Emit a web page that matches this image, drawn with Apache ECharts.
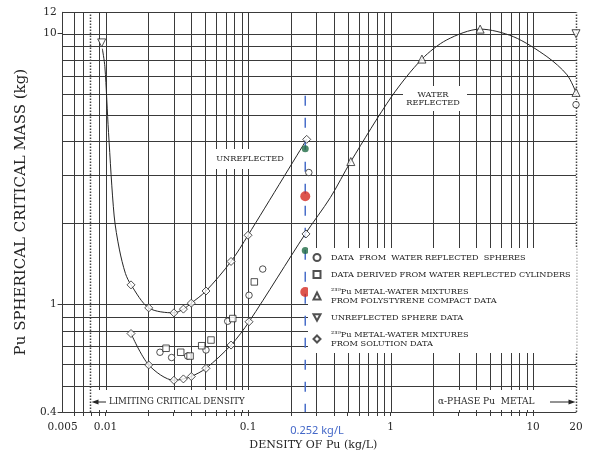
<!DOCTYPE html>
<html><head><meta charset="utf-8">
<script src="https://cdn.jsdelivr.net/npm/echarts@6/dist/echarts.min.js"></script>
<style>html,body{margin:0;padding:0;background:#fff}#c{width:589px;height:456px}</style>
</head><body><div id="c"></div>
<script>
// ---- axis ranges & ticks ----
const X_MIN = 0.005, X_MAX = 20, Y_MIN = 0.4, Y_MAX = 12;
const xLabelValues = [0.005, 0.01, 0.1, 1, 10, 20];
const xTickValues = [0.006,0.007,0.008,0.009,0.01,0.02,0.03,0.04,0.05,0.06,0.07,0.08,0.09,0.1,0.2,0.3,0.4,0.5,0.6,0.7,0.8,0.9,1,2,3,4,5,6,7,8,9,10];
const yLabelValues = [0.4, 1, 10, 12];
const yTickValues = [0.4, 1, 10];
const xGridValues = [0.006,0.007,0.009,0.01,0.02,0.03,0.04,0.05,0.06,0.07,0.08,0.09,0.1,0.2,0.3,0.4,0.5,0.6,0.7,0.8,0.9,1,2,3,4,5,6,7,8,9,10];
const yGridValues = [0.5,0.6,0.7,0.8,0.9,1,2,3,4,5,6,7,8,9,10];
const limitingDensity = [0.0078];
const markedDensity = 0.252;
const markedLineRange = [5.9, 0.4];

// ---- curves ----
const unreflectedCurve = [[0.0095,8.8],[0.0099,7.55],[0.0105,4.32],[0.0115,2.12],[0.0125,1.60],[0.0138,1.30],[0.0151,1.18],[0.0201,0.97],[0.0302,0.93],[0.0352,0.96],[0.040,1.01],[0.0507,1.12],[0.076,1.44],[0.1,1.80],[0.258,4.07]];
const reflectedCurve = [[0.0151,0.78],[0.0201,0.597],[0.0302,0.524],[0.0352,0.530],[0.040,0.541],[0.0507,0.580],[0.076,0.707],[0.1016,0.862],[0.252,1.82],[0.378,2.48],[0.526,3.37],[1.02,5.87],[1.66,8.06],[2.48,9.49],[4.25,10.4],[7.28,9.75],[12.5,8.23],[17.3,7.05],[20,6.07]];

// ---- data points ----
const sphereData = [[0.0241,0.665],[0.0291,0.636],[0.0377,0.644],[0.0507,0.678],[0.0720,0.866],[0.1016,1.08],[0.1268,1.35],[0.267,3.07],[20,5.47]];
const cylinderData = [[0.0266,0.688],[0.0337,0.665],[0.0392,0.644],[0.0473,0.703],[0.055,0.738],[0.0781,0.886],[0.1107,1.21]];
const polystyreneData = [[0.526,3.37],[1.66,8.06],[4.25,10.4],[20,6.07]];
const unreflectedSphereData = [[0.0094,9.25],[20,10.0]];
const solutionData = [[0.0151,1.18],[0.0201,0.97],[0.0302,0.93],[0.0352,0.96],[0.040,1.01],[0.0507,1.12],[0.076,1.44],[0.1,1.80],[0.258,4.07],
  [0.0151,0.78],[0.0201,0.597],[0.0302,0.524],[0.0352,0.530],[0.040,0.541],[0.0507,0.580],[0.076,0.707],[0.1016,0.862],[0.255,1.82]];
const greenMarks = [[0.252,3.76],[0.252,1.58]];
const redMarks = [[0.252,2.51],[0.252,1.11]];

const legendNames = [
  'DATA  FROM  WATER REFLECTED  SPHERES',
  'DATA DERIVED FROM WATER REFLECTED CYLINDERS',
  '²³⁹Pu METAL-WATER MIXTURES\nFROM POLYSTYRENE COMPACT DATA',
  'UNREFLECTED SPHERE DATA',
  '²³⁹Pu METAL-WATER MIXTURES\nFROM SOLUTION DATA'
];

const FONT = '"DejaVu Serif", "Liberation Serif", serif';
const INK = '#262626';
const GRID_INK = '#3a3a3a';

function vLines(values, style, z) {
  return {
    type: 'custom', z: z, silent: true, clip: false,
    data: values.map(v => [v, Y_MIN]),
    renderItem: function (params, api) {
      const x = api.value(0);
      const p1 = api.coord([x, Y_MIN]), p2 = api.coord([x, Y_MAX]);
      const px = Math.round(p1[0]) + 0.5;
      return { type: 'line', shape: { x1: px, y1: p1[1], x2: px, y2: p2[1] }, style: style };
    }
  };
}
function hLines(values, style, z) {
  return {
    type: 'custom', z: z, silent: true, clip: false,
    data: values.map(v => [X_MIN, v]),
    renderItem: function (params, api) {
      const y = api.value(1);
      const p1 = api.coord([X_MIN, y]), p2 = api.coord([X_MAX, y]);
      const py = Math.round(p1[1]) + 0.5;
      return { type: 'line', shape: { x1: p1[0], y1: py, x2: p2[0], y2: py }, style: style };
    }
  };
}
const fmt = v => String(Number((+v).toPrecision(6)));
const openStyle = { color: '#fff', borderColor: INK, borderWidth: 1 };

const chart = echarts.init(document.getElementById('c'), null, { renderer: 'canvas' });
chart.setOption({
  backgroundColor: '#fff',
  animation: false,
  grid: { left: 62.6, right: 13, top: 12.3, bottom: 42, show: false },
  xAxis: {
    type: 'log', logBase: 10, min: X_MIN, max: X_MAX,
    name: 'DENSITY OF Pu (kg/L)', nameLocation: 'middle', nameGap: 28,
    nameTextStyle: { fontFamily: FONT, fontSize: 11, color: INK, padding: [0, 12, 0, 0] },
    axisLine: { show: true, lineStyle: { color: GRID_INK, width: 1 } },
    axisTick: { show: true, inside: false, length: 4, customValues: xTickValues, lineStyle: { color: GRID_INK } },
    axisLabel: { customValues: xLabelValues, formatter: fmt, margin: 10, fontFamily: FONT, fontSize: 10.5, color: INK },
    splitLine: { show: false }
  },
  yAxis: {
    type: 'log', logBase: 10, min: Y_MIN, max: Y_MAX,
    name: 'Pu SPHERICAL CRITICAL MASS (kg)', nameLocation: 'middle', nameGap: 30, nameRotate: 90,
    nameTextStyle: { fontFamily: FONT, fontSize: 15, color: INK },
    axisLine: { show: true, lineStyle: { color: GRID_INK, width: 1 } },
    axisTick: { show: true, inside: false, length: 5, customValues: yTickValues, lineStyle: { color: GRID_INK } },
    axisLabel: { customValues: yLabelValues, formatter: fmt, margin: 6, fontFamily: FONT, fontSize: 10.5, color: INK },
    splitLine: { show: false }
  },
  legend: {
    orient: 'vertical', left: 308, top: 248, itemWidth: 7, itemHeight: 7, itemGap: 8,
    padding: [5, 6, 5, 4.5], backgroundColor: '#fff', selectedMode: false, z: 5,
    textStyle: { fontFamily: FONT, fontSize: 8.2, lineHeight: 9, color: INK, padding: [0, 0, 0, 5.5] },
    data: legendNames
  },
  graphic: [
    { type: 'rect', z: 2, shape: { x: 213, y: 149, width: 74, height: 20 }, style: { fill: '#fff' } },
    { type: 'text', z: 2, x: 250, y: 159, style: { text: 'UNREFLECTED', font: '8.2px ' + FONT, fill: INK, align: 'center', verticalAlign: 'middle' } },
    { type: 'rect', z: 2, shape: { x: 403, y: 86, width: 64, height: 25 }, style: { fill: '#fff' } },
    { type: 'text', z: 2, x: 433, y: 99, style: { text: 'WATER\nREFLECTED', font: '8.2px ' + FONT, lineHeight: 8.5, fill: INK, align: 'center', verticalAlign: 'middle' } },
    { type: 'rect', z: 2, shape: { x: 92, y: 390, width: 159, height: 20 }, style: { fill: '#fff' } },
    { type: 'line', z: 2, shape: { x1: 97, y1: 402, x2: 106, y2: 402 }, style: { stroke: INK, lineWidth: 1 } },
    { type: 'polygon', z: 2, shape: { points: [[91.5, 402], [98.5, 399.5], [98.5, 404.5]] }, style: { fill: INK } },
    { type: 'text', z: 2, x: 109, y: 402, style: { text: 'LIMITING CRITICAL DENSITY', font: '8.6px ' + FONT, fill: INK, align: 'left', verticalAlign: 'middle' } },
    { type: 'rect', z: 2, shape: { x: 436, y: 390, width: 139, height: 20 }, style: { fill: '#fff' } },
    { type: 'text', z: 2, x: 438, y: 402, style: { text: 'α-PHASE Pu  METAL', font: '9px ' + FONT, fill: INK, align: 'left', verticalAlign: 'middle' } },
    { type: 'line', z: 2, shape: { x1: 550, y1: 402, x2: 569, y2: 402 }, style: { stroke: INK, lineWidth: 1 } },
    { type: 'polygon', z: 2, shape: { points: [[575.5, 402], [568.5, 399.5], [568.5, 404.5]] }, style: { fill: INK } },
    { type: 'text', z: 2, x: 317, y: 431, style: { text: '0.252 kg/L', font: '11px "Noto Sans"', fill: '#4468c8', align: 'center', verticalAlign: 'middle' } }
  ],
  series: [
    vLines(xGridValues, { stroke: GRID_INK, lineWidth: 1 }, 1),
    hLines(yGridValues, { stroke: GRID_INK, lineWidth: 1 }, 1),
    hLines([Y_MAX], { stroke: GRID_INK, lineWidth: 1 }, 1),
    vLines(limitingDensity, { stroke: '#444', lineWidth: 1.5, lineDash: [1.5, 1.5] }, 1),
    vLines([X_MAX], { stroke: '#444', lineWidth: 1.5, lineDash: [1.5, 1.5] }, 1),
    { type: 'line', name: 'unreflected curve', data: unreflectedCurve, showSymbol: false, smooth: 0.3, clip: false, silent: true, z: 3,
      lineStyle: { color: INK, width: 1 } },
    { type: 'line', name: 'reflected curve', data: reflectedCurve, showSymbol: false, smooth: 0.3, clip: false, silent: true, z: 3,
      lineStyle: { color: INK, width: 1 } },
    { type: 'line', name: 'marked density', data: markedLineRange.map(y => [markedDensity, y]), showSymbol: false, clip: false, silent: true, z: 3,
      lineStyle: { color: '#4a6fc9', width: 1.5, type: [10, 12] } },
    { type: 'scatter', name: legendNames[0], data: sphereData, symbol: 'circle', symbolSize: 6.5, itemStyle: openStyle, clip: false, z: 4 },
    { type: 'scatter', name: legendNames[1], data: cylinderData, symbol: 'rect', symbolSize: 6.5, itemStyle: openStyle, clip: false, z: 4 },
    { type: 'scatter', name: legendNames[2], data: polystyreneData, symbol: 'triangle', symbolSize: 8, itemStyle: openStyle, clip: false, z: 4 },
    { type: 'scatter', name: legendNames[3], data: unreflectedSphereData, symbol: 'path://M0,0L10,0L5,9Z', symbolSize: 8, itemStyle: openStyle, clip: false, z: 4 },
    { type: 'scatter', name: legendNames[4], data: solutionData, symbol: 'diamond', symbolSize: 8, itemStyle: openStyle, clip: false, z: 4 },
    { type: 'scatter', name: 'green', data: greenMarks, symbol: 'circle', symbolSize: 7, itemStyle: { color: '#1f6b45' }, clip: false, z: 4 },
    { type: 'scatter', name: 'red', data: redMarks, symbol: 'circle', symbolSize: 10, itemStyle: { color: '#d42a22' }, clip: false, z: 4 }
  ]
});
</script>
</body></html>
